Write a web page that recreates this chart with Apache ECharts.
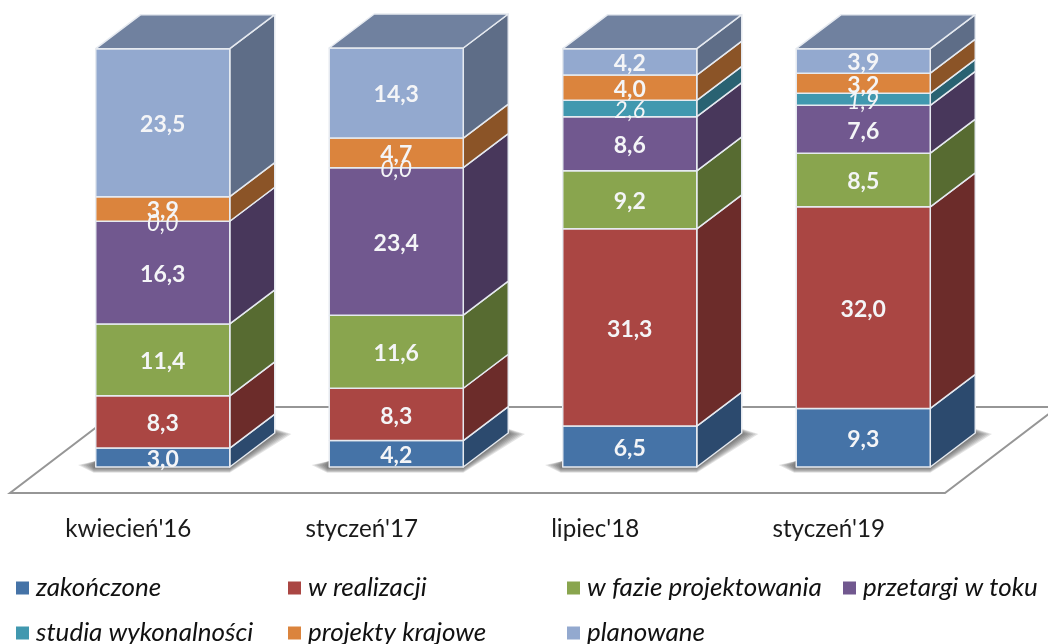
<!DOCTYPE html>
<html><head><meta charset="utf-8">
<style>html,body{margin:0;padding:0;background:#fff}#c{width:1048px;height:644px}</style>
<script src="https://cdn.jsdelivr.net/npm/echarts@6/dist/echarts.min.js"></script>
</head><body><div id="c"></div>
<script>
const categories = ["kwiecień'16", "styczeń'17", "lipiec'18", "styczeń'19"];
const zakonczone = [3.0, 4.2, 6.5, 9.3];
const wRealizacji = [8.3, 8.3, 31.3, 32.0];
const wFazie = [11.4, 11.6, 9.2, 8.5];
const przetargi = [16.3, 23.4, 8.6, 7.6];
const studia = [0.0, 0.0, 2.6, 1.9];
const krajowe = [3.9, 4.7, 4.0, 3.2];
const planowane = [23.5, 14.3, 4.2, 3.9];

const names = ['zakończone','w realizacji','w fazie projektowania','przetargi w toku','studia wykonalności','projekty krajowe','planowane'];
const values = [zakonczone,wRealizacji,wFazie,przetargi,studia,krajowe,planowane];
const front = ['#4573A7','#AA4643','#89A54E','#71588F','#4198AF','#DB843D','#93A9CF'];
const side = ['#2C4A6E','#6C2C2A','#576B31','#48375B','#296272','#8B5427','#5E6D87'];
const italicSeries = 4;
const legendPos = [[16,575],[288,575],[567,575],[843,575],[16,620],[288,620],[567,620]];
const font = 'Lato';
const DX = 45, DY = 34, BAR = 0.574, EDGE = '#E6EAF0', SHADOW_STEPS = 7;

const fmt = v => v.toFixed(1).replace('.', ',');
const running = categories.map(() => 0);

const barSeries = names.map((name, s) => {
  const data = categories.map((c, i) => {
    const lo = running[i];
    running[i] += values[s][i];
    return [i, lo, running[i], values[s][i]];
  });
  return {
    type: 'custom', name, data, z: 3,
    itemStyle: { color: front[s] },
    encode: { x: 0, y: [1, 2] },
    renderItem(params, api) {
      const i = api.value(0), lo = api.value(1), hi = api.value(2), v = api.value(3);
      const c0 = api.coord([i, lo]), c1 = api.coord([i, hi]);
      const w = api.size([1, 0])[0] * BAR;
      const x0 = c0[0] - w / 2, x1 = x0 + w, yb = c0[1], yt = c1[1];
      const kids = [];
      const edge = { stroke: EDGE, lineWidth: 1.5, lineJoin: 'round' };
      if (v > 0) {
        kids.push({ type: 'polygon', shape: { points: [[x1,yb],[x1+DX,yb-DY],[x1+DX,yt-DY],[x1,yt]] }, style: { fill: side[s], ...edge } });
        kids.push({ type: 'rect', shape: { x: x0, y: yt, width: w, height: yb - yt }, style: { fill: front[s], ...edge } });
      }
      if (s === names.length - 1) {
        kids.push({ type: 'polygon', shape: { points: [[x0,yt],[x0+DX,yt-DY],[x1+DX,yt-DY],[x1,yt]] }, style: { fill: '#70819F', ...edge } });
      }
      kids.push({ type: 'text', z2: 50, style: {
        x: c0[0], y: (yb + yt) / 2 + 2, text: fmt(v), align: 'center', verticalAlign: 'middle',
        fill: '#F4F5F7', font: (s === italicSeries ? 'italic 400 ' : '700 ') + '23px ' + font
      } });
      return { type: 'group', children: kids };
    }
  };
});

const floorSeries = {
  type: 'custom', name: 'floor', z: 1, silent: true,
  data: categories.map((c, i) => [i, 0]),
  encode: { x: 0, y: 1 },
  renderItem(params, api) {
    const i = api.value(0);
    const c = api.coord([i, 0]);
    const w = api.size([1, 0])[0] * BAR;
    const x0 = c[0] - w / 2, x1 = x0 + w, y = c[1];
    const kids = [];
    if (i === 0) {
      const cs = params.coordSys;
      const yb = cs.y + cs.height;
      const L = cs.x - 36, R = cs.x + cs.width - 35;
      kids.push({ type: 'polygon', shape: { points: [[L,yb+26],[R,yb+26],[R+113,yb-60],[L+113,yb-60]] },
        style: { fill: '#fff', stroke: '#969696', lineWidth: 2 } });
    }
    for (let k = 0; k < SHADOW_STEPS; k++) {
      const ex = k * 2.6, ey = k * 0.8;
      kids.push({ type: 'polygon', shape: { points: [
        [x0 - 2 - ex, y - 2], [x0 - 2, y + 1 + ey], [x1, y + 1 + ey],
        [x1 + DX + 1 + ex, y - DY + 1], [x1 + DX, y - DY - 1 - ey * 0.7], [x0, y - 6]
      ] }, style: { fill: 'rgba(60,60,60,0.14)' } });
    }
    return { type: 'group', children: kids };
  }
};

const rich = { a: { padding: [0, 69, 0, 0], fontFamily: font, fontSize: 24.2, color: '#1a1a1a' } };

const chart = echarts.init(document.getElementById('c'), null, { renderer: 'canvas' });
chart.setOption({
  animation: false,
  backgroundColor: '#fff',
  grid: { left: 46, width: 934, top: 48, height: 419 },
  xAxis: { type: 'category', data: categories, axisLine: { show: false }, axisTick: { show: false }, splitLine: { show: false },
    axisLabel: { interval: 0, margin: 50, formatter: v => `{a|${v}}`, rich } },
  yAxis: { type: 'value', min: 0, max: 66.5, show: false },
  legend: names.map((n, i) => ({ data: [n], left: legendPos[i][0], top: legendPos[i][1], padding: 0, icon: 'rect', itemWidth: 13, itemHeight: 13, itemGap: 0, selectedMode: false,
    textStyle: { fontFamily: font, fontStyle: 'italic', fontSize: 26, color: '#111', padding: [0, 0, 0, 2] } })),
  series: [floorSeries, ...barSeries]
});
</script></body></html>
